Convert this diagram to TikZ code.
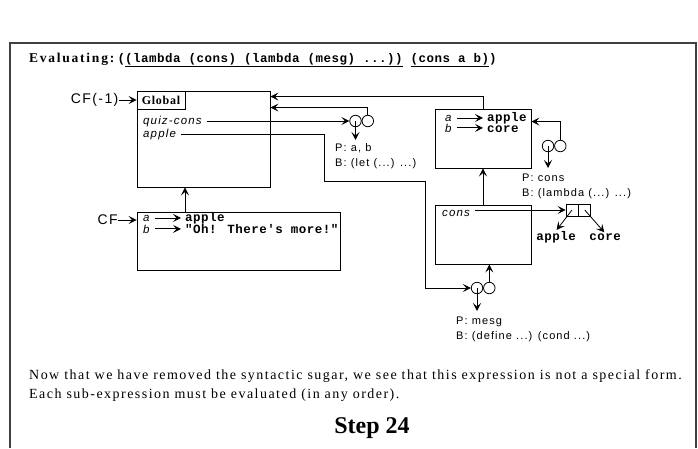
\documentclass[tikz,border=0pt]{standalone}
\usepackage{fontspec}
\setmainfont{Liberation Serif}
\setsansfont{Liberation Sans}
\setmonofont{Liberation Mono}
\newfontfamily\lblfont[LetterSpace=10]{Liberation Sans}
\newfontfamily\txtfont[LetterSpace=10.5]{Liberation Serif}
\newfontfamily\codefont[LetterSpace=4]{Liberation Mono}
\usetikzlibrary{arrows.meta, positioning, calc}

\begin{document}
\begin{tikzpicture}[x=1pt, y=-1pt,
    envbox/.style={draw, line width=0.9pt, inner sep=0pt},
    cell/.style={draw, line width=0.8pt, minimum width=12pt, minimum height=12pt, inner sep=0pt},
    lbl/.style={font={\lblfont\fontsize{11}{15}\selectfont}, inner sep=0pt, align=left},
    cflbl/.style={font={\lblfont\fontsize{14}{14}\selectfont}, inner sep=0pt},
    var/.style={font={\lblfont\itshape\fontsize{11.5}{12}\selectfont}, inner sep=0pt, anchor=base west},
    val/.style={font={\codefont\bfseries\fontsize{12.5}{13}\selectfont}, inner sep=0pt, anchor=base west},
    note/.style={font={\txtfont\fontsize{14}{18}\selectfont}, inner sep=0pt, anchor=base west},
    blob/.style={circle, draw, line width=0.8pt, minimum size=11.5pt, inner sep=0pt},
    ptr/.style={-{Stealth[length=8pt,width=8pt,inset=3.5pt]}, line width=0.8pt}]
  \useasboundingbox (0,0) rectangle (698,448);
  \draw[line width=1.3pt, black!75] (10,448) |- (696,43) -- (696,448);

  % heading
  \node[anchor=base west, inner sep=0pt, font={\txtfont\bfseries\fontsize{13.5}{14}\selectfont\addfontfeature{LetterSpace=13}}] (evlbl) at (29,62) {Evaluating:};
  \node[val] (evexpr) at ([xshift=3pt]evlbl.base east) {(\underline{(lambda (cons) (lambda (mesg) ...))} \underline{(cons a b)})};

  % global environment
  \node[envbox, minimum width=133pt, minimum height=96pt] (global) at (203.5,139) {};
  \node[envbox, anchor=north west, minimum width=48pt, minimum height=18pt, font={\txtfont\bfseries\fontsize{12}{12}\selectfont\addfontfeature{LetterSpace=6}}] (gtag) at (global.north west) {Global};
  \node[cflbl, left=18pt of gtag] (cfm1) {CF(-1)};
  \node[var] (gqc) at (143,124) {quiz-cons};
  \node[var] (gapple) at (143,137) {apple};

  % procedure quiz-cons
  \node[blob] (p1l) at (355.5,121) {};
  \node[blob, right=0pt of p1l] (p1r) {};
  \node[lbl, anchor=north west] (p1txt) at (335,143) {P: a, b\\B: (let (...) ...)};

  % frame for (cons a b)
  \node[envbox, minimum width=96pt, minimum height=59pt] (cenv) at (483,138.5) {};
  \node[var] (ca) at (445,121) {a};
  \node[var] (cb) at (445,132) {b};
  \node[val] (cav) at (487,121) {apple};
  \node[val] (cbv) at (487,132) {core};

  % procedure cons
  \node[blob] (p2l) at (548,146) {};
  \node[blob, right=0pt of p2l] (p2r) {};
  \node[lbl, anchor=north west] (p2txt) at (522,174) {P: cons\\B: (lambda (...) ...)};

  % frame for the lambda (cons)
  \node[envbox, minimum width=96pt, minimum height=59pt] (lenv) at (483,234.5) {};
  \node[var] (lcons) at (442,216) {cons};
  \node[cell] (car) at (572,210) {};
  \node[cell, right=0pt of car] (cdr) {};
  \node[val, anchor=base] (capple) at (556,240) {apple};
  \node[val, anchor=base] (ccore) at (605,240) {core};

  % procedure mesg
  \node[blob] (p3l) at (477,288) {};
  \node[blob, right=0pt of p3l] (p3r) {};
  \node[lbl, anchor=north west] (p3txt) at (456,317) {P: mesg\\B: (define ...) (cond ...)};

  % current frame
  \node[envbox, minimum width=203pt, minimum height=58pt] (fenv) at (238.5,241) {};
  \node[cflbl, anchor=east] (cf) at (118,220) {CF};
  \node[var] (fa) at (143,221) {a};
  \node[var] (fb) at (143,233) {b};
  \node[val] (fav) at (185,221) {apple};
  \node[val] (fbv) at (185,233) {"Oh! There's more!"};

  % text
  \node[note] (note1) at (29,379.5) {Now that we have removed the syntactic sugar, we see that this expression is not a special form.};
  \node[note] (note2) at ([yshift=-18.5pt]note1.base west) {Each sub-expression must be evaluated (in any order).};
  \node[anchor=base, inner sep=0pt, font={\bfseries\fontsize{24}{24}\selectfont}] (stepno) at (372,433) {Step 24};

  % pointers
  \draw[ptr] (cfm1) -- (cfm1 -| global.west);
  \draw[ptr] (cf) -- (cf -| fenv.west);
  \draw[ptr, shorten <=5pt] (gqc.east |- p1l) -- (p1l.west);
  \draw[ptr, shorten >=3pt] (p1l.center) -- (p1l.center |- p1txt.north);
  \draw[ptr] (p1r.north) |- ($(global.north east)+(0,17)$);
  \draw[ptr] (cenv.north) |- ($(global.north east)+(0,6)$);
  \draw[ptr, shorten <=5pt, shorten >=4pt] (ca.east) -- (ca.east -| cav.west);
  \draw[ptr, shorten <=5pt, shorten >=4pt] (cb.east) -- (cb.east -| cbv.west);
  \draw[ptr] (p2r.north) |- ($(cenv.north east)+(0,13)$);
  \draw[ptr, shorten >=6pt] (p2l.center) -- (p2l.center |- p2txt.north);
  \draw[ptr] (lenv.north) -- (cenv.south);
  \draw[ptr, shorten <=5pt] (car.west -| lcons.east) -- (car.west);
  \draw[ptr, shorten >=1pt] (car.center) -- (capple.north);
  \draw[ptr, shorten >=1pt] (cdr.center) -- (ccore.north);
  \draw[ptr, shorten <=5pt] (gapple.east) -| (324,181) -- (425,181) |- (p3l.west);
  \draw[ptr] (p3r.north) -- (p3r.north |- lenv.south);
  \draw[ptr, shorten >=6pt] (p3l.center) -- (p3l.center |- p3txt.north);
  \draw[ptr, shorten <=5pt, shorten >=4pt] (fa.east) -- (fa.east -| fav.west);
  \draw[ptr, shorten <=5pt, shorten >=4pt] (fb.east) -- (fb.east -| fbv.west);
  \draw[ptr] (fav.west |- fenv.north) -- (fav.west |- global.south);
\end{tikzpicture}
\end{document}
